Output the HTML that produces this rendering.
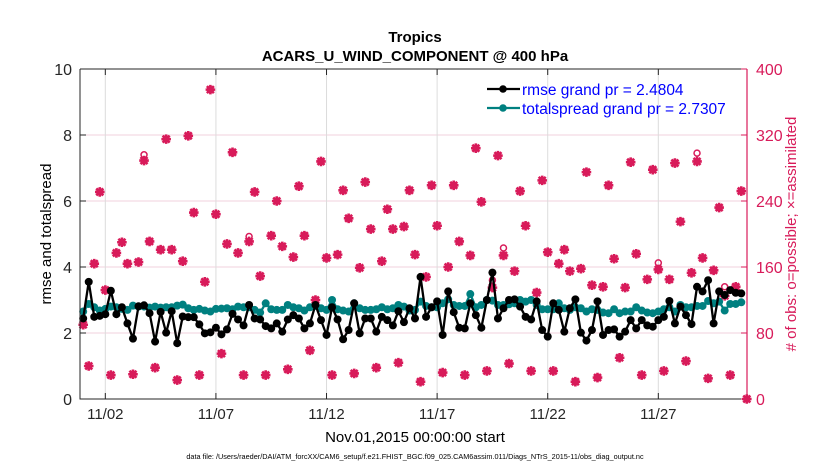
<!DOCTYPE html>
<html><head><meta charset="utf-8"><style>
body{margin:0;background:#fff;}
svg{display:block;font-family:"Liberation Sans",sans-serif;}
</style></head><body>
<svg id="chart" width="830" height="470" viewBox="0 0 830 470">
<rect x="0" y="0" width="830" height="470" fill="#fff"/>
<text x="415" y="42" text-anchor="middle" font-size="15" font-weight="bold">Tropics</text>
<text x="415" y="61" text-anchor="middle" font-size="15" font-weight="bold">ACARS_U_WIND_COMPONENT @ 400 hPa</text>
<g id="grid"></g>
<g id="obs"></g>
<g id="lines"></g>
<g id="axes"></g>
<text transform="translate(51,234) rotate(-90)" text-anchor="middle" font-size="15">rmse and totalspread</text>
<text transform="translate(796,234) rotate(-90)" text-anchor="middle" font-size="15" fill="#d81b5a"># of obs: o=possible; ×=assimilated</text>
<text x="415" y="442" text-anchor="middle" font-size="15">Nov.01,2015 00:00:00 start</text>
<text x="415" y="459" text-anchor="middle" font-size="7.3">data file: /Users/raeder/DAI/ATM_forcXX/CAM6_setup/f.e21.FHIST_BGC.f09_025.CAM6assim.011/Diags_NTrS_2015-11/obs_diag_output.nc</text>
<g>
<line x1="487" y1="89" x2="520" y2="89" stroke="#000" stroke-width="2.2"/>
<circle cx="503" cy="89" r="3.8" fill="#000"/>
<text x="522" y="95" font-size="15.5" fill="#0000ff">rmse grand pr = 2.4804</text>
<line x1="487" y1="108" x2="520" y2="108" stroke="#008080" stroke-width="2.2"/>
<circle cx="503" cy="108" r="3.8" fill="#008080"/>
<text x="522" y="114" font-size="15.5" fill="#0000ff">totalspread grand pr = 2.7307</text>
</g>
</svg>
<script>
const rmse = [2.44,3.55,2.49,2.52,2.57,3.28,2.57,2.78,2.29,1.83,2.81,2.84,2.6,1.74,2.64,2.01,2.66,1.69,2.5,2.48,2.48,2.26,1.99,2.02,2.16,1.96,2.11,2.58,2.41,2.23,2.85,
2.44,2.41,2.21,2.14,2.29,2.04,2.41,2.54,2.44,2.14,2.29,2.85,2.39,1.94,2.78,2.41,1.81,2.09,2.9,1.99,2.44,2.44,2.04,2.49,2.39,2.23,2.66,2.33,2.75,2.44,3.7,
2.49,2.78,2.96,1.94,3.26,2.63,2.16,2.14,2.9,2.54,2.16,3.0,3.83,2.44,2.75,3.0,3.02,2.8,2.49,2.41,2.96,2.09,1.89,2.9,2.7,2.04,2.75,3.02,2.01,1.77,
2.09,2.96,1.94,2.09,2.11,1.89,2.04,2.39,2.14,2.39,2.23,2.19,2.39,2.49,2.97,2.29,2.8,2.54,2.27,3.4,3.26,3.6,2.29,3.26,3.15,3.3,3.22,3.2];
const spread = [2.65,2.88,2.78,2.68,2.73,2.80,2.78,2.73,2.70,2.83,2.80,2.80,2.77,2.80,2.77,2.78,2.78,2.83,2.86,2.75,2.70,2.73,2.68,2.65,2.73,2.74,2.75,2.72,2.80,2.78,2.78,
2.70,2.62,2.90,2.72,2.70,2.70,2.85,2.78,2.75,2.68,2.78,2.82,2.75,2.70,3.0,2.72,2.68,2.65,2.90,2.75,2.70,2.70,2.72,2.78,2.72,2.75,2.85,2.80,2.68,2.70,2.95,
2.82,2.78,2.78,2.90,3.02,2.85,2.82,2.82,3.18,2.78,2.85,3.0,2.98,2.85,2.85,2.87,2.90,3.0,2.95,3.0,2.85,2.72,2.72,2.72,2.90,2.75,2.70,2.78,2.75,2.65,
2.72,2.70,2.62,2.60,2.72,2.60,2.65,2.65,2.78,2.68,2.62,2.60,2.65,2.72,2.78,2.65,2.85,2.78,2.78,2.82,2.82,2.97,2.90,2.95,2.68,2.88,2.88,2.93];
const obsUsed = [90,40,164,251,132,29,177,190,164,30,166,289,191,38,181,315,181,23,167,319,226,29,142,375,224,55,188,299,177,29,191,251,
149,29,198,240,185,36,172,258,198,59,120,288,171,29,175,253,219,31,159,263,206,38,167,230,206,44,209,253,175,21,
148,259,210,32,160,259,191,29,174,304,239,34,135,295,174,43,155,252,210,34,129,265,178,34,164,181,155,21,158,275,
138,26,136,259,170,50,135,287,176,29,145,278,157,34,145,286,215,46,153,288,171,25,156,232,125,29,136,252,0];
const obsPossible = [90,40,164,251,132,29,177,190,164,30,166,296,191,38,181,315,181,23,167,319,226,29,142,375,224,55,188,299,177,29,197,251,
149,29,198,240,185,36,172,258,198,59,120,288,171,29,175,253,219,31,159,263,206,38,167,230,206,44,209,253,175,21,
148,259,210,32,160,259,191,29,174,304,239,34,144,295,183,43,155,252,210,34,129,265,178,34,164,181,155,21,158,275,
138,26,136,259,170,50,135,287,176,29,145,278,165,34,145,286,215,46,153,298,171,25,156,232,136,29,136,252,0];
const leftTicks = [0,2,4,6,8,10];
const rightTicks = [0,80,160,240,320,400];
const xTickDays = [1,6,11,16,21,26];
const xTickLabels = ["11/02","11/07","11/12","11/17","11/22","11/27"];

const NS="http://www.w3.org/2000/svg";
const L=80,R=747,T=69,B=399;
const x0=83.2, dayPx=22.12;
function xDay(d){return x0+d*dayPx;}
function xT(t){return xDay(t/4);}
function yL(v){return B-(v/10)*(B-T);}
function yR(v){return B-(v/400)*(B-T);}
function mk(tag,attrs,parent){const e=document.createElementNS(NS,tag);for(const k in attrs)e.setAttribute(k,attrs[k]);parent.appendChild(e);return e;}
const grid=document.getElementById('grid'),axes=document.getElementById('axes'),obs=document.getElementById('obs'),lines=document.getElementById('lines');
const RED="#d81b5a";
rightTicks.forEach(v=>{ if(v>0&&v<400){const g=mk('line',{x1:L,x2:R,y1:yR(v),y2:yR(v),stroke:'#f0d2dc','stroke-width':1},grid);

}});
xTickDays.forEach(d=>{const g=mk('line',{x1:xDay(d),x2:xDay(d),y1:T,y2:B,stroke:'#dcdcdc','stroke-width':1},grid);

});
obsPossible.forEach((v,i)=>{const c=mk('circle',{cx:xT(i),cy:yR(v),r:3,fill:'none',stroke:RED,'stroke-width':1.5},obs);

});
obsUsed.forEach((v,i)=>{const x=xT(i),y=yR(v),s=4.8;
const p=mk('path',{d:`M${x-s},${y}H${x+s}M${x},${y-s}V${y+s}M${x-3.5},${y-3.5}L${x+3.5},${y+3.5}M${x-3.5},${y+3.5}L${x+3.5},${y-3.5}`,stroke:RED,'stroke-width':2.6,fill:'none'},obs);


const d=mk('circle',{cx:x,cy:y,r:3.2,fill:RED},obs);

});
function series(arr,color,name){
 const pl=mk('polyline',{points:arr.map((v,i)=>xT(i)+','+yL(v)).join(' '),fill:'none',stroke:color,'stroke-width':2.3,'stroke-linejoin':'round'},lines);
 
 
 arr.forEach((v,i)=>{const c=mk('circle',{cx:xT(i),cy:yL(v),r:4,fill:color},lines);
 
 });
}
series(spread,'#008080','totalspread');
series(rmse,'#000','rmse');
const bx=mk('path',{d:`M${L},${T}H${R}M${L},${T}V${B}H${R}`,stroke:'#262626','stroke-width':1,fill:'none'},axes);


const ra=mk('line',{x1:R,x2:R,y1:T,y2:B,stroke:RED,'stroke-width':1.2},axes);


leftTicks.forEach(v=>{const y=yL(v);
const tk=mk('line',{x1:L,x2:L+6,y1:y,y2:y,stroke:'#262626'},axes);


const t=mk('text',{x:L-8,y:y+6,'text-anchor':'end','font-size':16,fill:'#262626'},axes);t.textContent=v;

});
rightTicks.forEach(v=>{const y=yR(v);
const tk=mk('line',{x1:R-6,x2:R,y1:y,y2:y,stroke:RED},axes);


const t=mk('text',{x:R+9,y:y+6,'font-size':16,fill:RED},axes);t.textContent=v;

});
xTickDays.forEach((d,i)=>{const x=xDay(d);
const tk=mk('path',{d:`M${x},${B}V${B-6}M${x},${T}V${T+6}`,stroke:'#262626'},axes);


const t=mk('text',{x:x,y:B+20,'text-anchor':'middle','font-size':15,fill:'#262626'},axes);t.textContent=xTickLabels[i];

});
</script>
</body></html>
